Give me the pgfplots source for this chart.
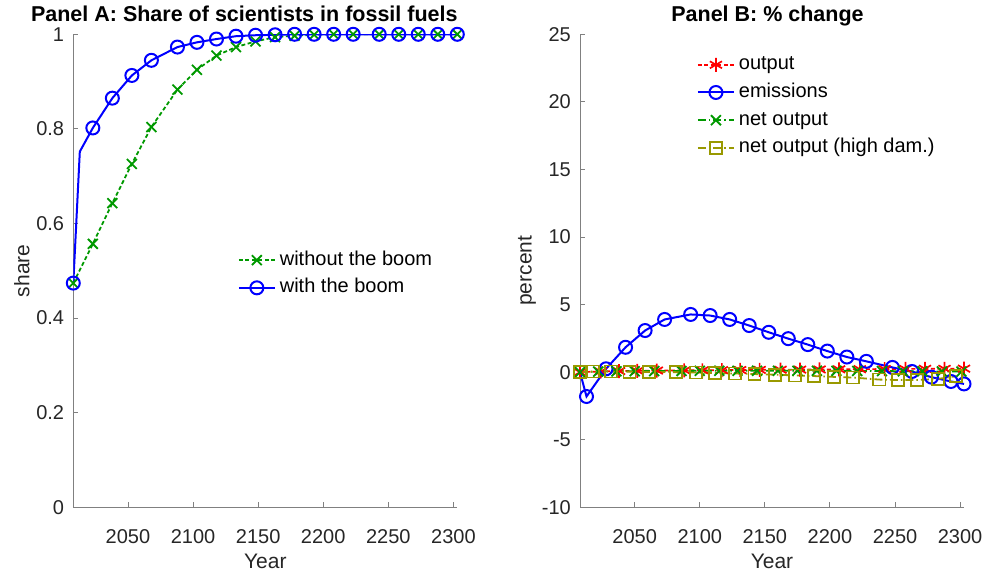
\documentclass[border=0pt]{standalone}
\usepackage{fontspec}
\setmainfont{Liberation Sans}
\usepackage{pgfplots}
\pgfplotsset{compat=1.18}
\definecolor{mblue}{rgb}{0,0,1}
\definecolor{mgreen}{rgb}{0,0.6,0}
\definecolor{mred}{rgb}{1,0,0}
\definecolor{molive}{rgb}{0.6,0.6,0}
\definecolor{axgray}{rgb}{0.5,0.5,0.5}
\definecolor{txtgray}{rgb}{0.15,0.15,0.15}
\pgfplotsset{
  mystyle/.style={
    scale only axis, width=384pt, height=473pt,
    axis lines=left, axis line style={-, axgray, line width=0.9pt},
    xmin=2008, xmax=2303,
    xtick={2050,2100,...,2300},
    tick align=inside, major tick length=5pt,
    every tick/.style={axgray, line width=0.9pt},
    tick label style={font=\fontsize{20}{24}\selectfont, text=txtgray},
    /pgf/number format/assume math mode=true,
    xticklabel style={/pgf/number format/1000 sep=, anchor=center, yshift=-29.5pt},
    yticklabel style={anchor=east, inner sep=0pt, xshift=-9pt},
    label style={font=\fontsize{21}{25}\selectfont, text=txtgray},
    xlabel style={at={(axis description cs:0.5,-0.114)}, anchor=center},
    title style={font=\fontsize{21.5}{25}\selectfont\bfseries, anchor=base},
    legend style={draw=none, fill=none, font=\fontsize{20}{24}\selectfont, inner sep=0pt,
      nodes={inner sep=0pt, text height=14pt, text depth=4pt}, row sep=9.7pt,
      /tikz/every odd column/.append style={column sep=4pt}},
    legend cell align=left,
    legend image code/.code={\draw[mark repeat=2,mark phase=2,##1] plot coordinates {(0pt,0pt) (18pt,0pt) (36pt,0pt)};},
    every mark/.append style={line width=2.4pt, solid},
  }
}
\begin{document}
\begin{tikzpicture}
\useasboundingbox (0,0) rectangle (985pt,576pt);
% Panel A
\begin{axis}[mystyle, at={(73.3pt,68.7pt)}, anchor=south west,
  ymin=0, ymax=1, ytick={0,0.2,...,1},
  yticklabel style={/pgf/number format/fixed},
  xlabel={Year}, ylabel={share},
  ylabel style={at={(axis description cs:-0.134,0.5)}, anchor=center},
  title={Panel A: Share of scientists in fossil fuels},
  title style={at={(axis description cs:0.5,1)}, yshift=7pt, xshift=-21pt},
  legend style={at={(0.428,0.542)}, anchor=north west},
]
\addplot[mgreen, line width=1.8pt, dash pattern=on 4pt off 2.5pt, mark=x, mark size=7pt, mark options={solid}] coordinates {
(2008,0.474) (2023,0.557) (2038,0.643) (2053,0.726) (2068,0.804) (2088,0.883) (2103,0.925) (2118,0.955) (2133,0.973) (2148,0.985) (2163,0.994) (2178,0.997) (2193,0.999) (2208,1) (2223,1) (2243,1) (2258,1) (2273,1) (2288,1) (2303,1)};
\addlegendentry{without the boom}
\addplot[mblue, line width=2pt, forget plot] coordinates {
(2008,0.474) (2013,0.752) (2023,0.802) (2038,0.865) (2053,0.913) (2068,0.945) (2088,0.973) (2103,0.983) (2118,0.990) (2133,0.996) (2148,0.998) (2163,0.999) (2178,1) (2193,1) (2208,1) (2223,1) (2243,1) (2258,1) (2273,1) (2288,1) (2303,1)};
\addplot[mblue, line width=2pt, only marks, mark=o, mark size=6.5pt, forget plot] coordinates {
(2008,0.474) (2023,0.802) (2038,0.865) (2053,0.913) (2068,0.945) (2088,0.973) (2103,0.983) (2118,0.990) (2133,0.996) (2148,0.998) (2163,0.999) (2178,1) (2193,1) (2208,1) (2223,1) (2243,1) (2258,1) (2273,1) (2288,1) (2303,1)};
\addlegendimage{mblue, line width=2pt, mark=o, mark size=6.5pt}
\addlegendentry{with the boom}
\end{axis}
% Panel B
\begin{axis}[mystyle, at={(580pt,68.7pt)}, anchor=south west,
  ymin=-10, ymax=25, ytick={-10,-5,...,25},
  xlabel={Year}, ylabel={percent},
  ylabel style={at={(axis description cs:-0.138,0.5)}, anchor=center},
  title={Panel B: \% change},
  title style={at={(axis description cs:0.5,1)}, yshift=7pt, xshift=-4.5pt},
  legend style={at={(0.304,0.955)}, anchor=north west},
]
\addplot[mred, line width=1.7pt, dash pattern=on 4pt off 2.5pt, mark=asterisk, mark size=7pt, mark options={solid}] coordinates {
(2008,0) (2024,0.05) (2038,0.08) (2052,0.1) (2067,0.12) (2088,0.13) (2102,0.14) (2117,0.15) (2131,0.16) (2146,0.17) (2162,0.18) (2177,0.19) (2192,0.2) (2207,0.21) (2223,0.22) (2242,0.23) (2258,0.24) (2273,0.25) (2288,0.25) (2303,0.26)};
\addlegendentry{output}
\addplot[mblue, line width=2pt, forget plot] coordinates {
(2008,0) (2013,-1.8) (2028,0.25) (2043,1.84) (2058,3.08) (2073,3.9) (2093,4.27) (2108,4.19) (2123,3.9) (2138,3.45) (2153,2.95) (2168,2.48) (2183,2.04) (2198,1.56) (2213,1.12) (2228,0.8) (2248,0.35) (2263,0.05) (2278,-0.37) (2293,-0.69) (2303,-0.87)};
\addplot[mblue, line width=2pt, only marks, mark=o, mark size=6.5pt, forget plot] coordinates {
(2013,-1.8) (2028,0.25) (2043,1.84) (2058,3.08) (2073,3.9) (2093,4.27) (2108,4.19) (2123,3.9) (2138,3.45) (2153,2.95) (2168,2.48) (2183,2.04) (2198,1.56) (2213,1.12) (2228,0.8) (2248,0.35) (2263,0.05) (2278,-0.37) (2293,-0.69) (2303,-0.87)};
\addlegendimage{mblue, line width=2pt, mark=o, mark size=6.5pt}
\addlegendentry{emissions}
\addplot[mgreen, line width=1.8pt, dash pattern=on 8pt off 3pt on 1.5pt off 3pt, mark=x, mark size=7pt, mark options={solid}] coordinates {
(2008,0) (2022,0.04) (2036,0.06) (2050,0.07) (2065,0.08) (2086,0.09) (2100,0.1) (2115,0.1) (2129,0.1) (2144,0.1) (2160,0.1) (2175,0.1) (2190,0.1) (2205,0.1) (2221,0.09) (2240,0.08) (2256,0.07) (2271,0.06) (2286,0.05) (2301,0.04)};
\addlegendentry{net output}
\addplot[molive, line width=1.8pt, dash pattern=on 8pt off 3pt on 1.5pt off 3pt, mark=square, mark size=6pt, mark options={solid}] coordinates {
(2008,0) (2018,0.05) (2032,0.05) (2046,0.03) (2061,0.02) (2082,0) (2097,-0.03) (2112,-0.07) (2127,-0.1) (2142,-0.14) (2158,-0.19) (2173,-0.24) (2188,-0.29) (2203,-0.35) (2218,-0.4) (2238,-0.55) (2252,-0.58) (2267,-0.58) (2283,-0.5) (2297,-0.3)};
\addlegendentry{net output (high dam.)}
\end{axis}
\end{tikzpicture}
\end{document}
